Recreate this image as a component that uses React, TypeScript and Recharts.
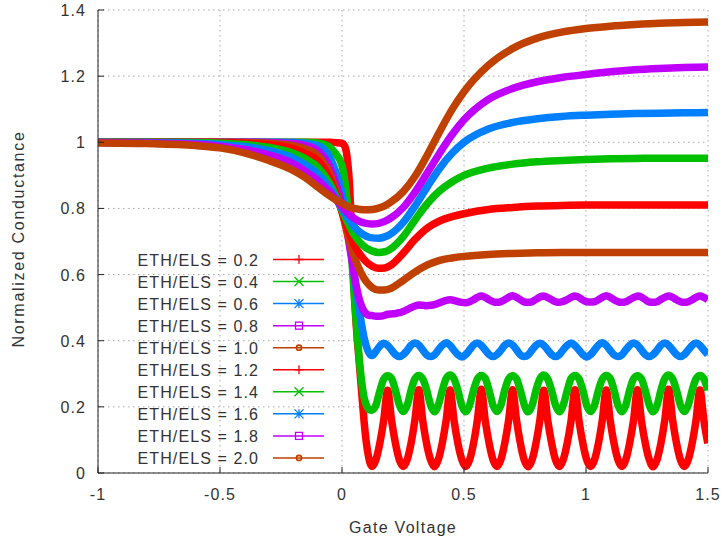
import React from 'react';
import { LineChart, Line, XAxis, YAxis, CartesianGrid } from 'recharts';

// ---- axes ----
const X_TICKS = [-1, -0.5, 0, 0.5, 1, 1.5];
const X_TICK_LABELS = ['-1', '-0.5', '0', '0.5', '1', '1.5'];
const Y_TICKS = [0, 0.2, 0.4, 0.6, 0.8, 1, 1.2, 1.4];
const Y_TICK_LABELS = ['0', '0.2', '0.4', '0.6', '0.8', '1', '1.2', '1.4'];

// ---- gate voltage samples ----
// smooth curves (ETH/ELS >= 1.0)
const X_SMOOTH = [-1, -0.8, -0.6, -0.5, -0.4, -0.3, -0.2, -0.15, -0.1, -0.05, 0, 0.025, 0.05, 0.075, 0.1, 0.125, 0.15, 0.175, 0.2, 0.25, 0.3, 0.35, 0.4, 0.45, 0.5, 0.6, 0.7, 0.8, 0.9, 1.0, 1.1, 1.2, 1.3, 1.4, 1.5];
// oscillating curves (ETH/ELS <= 0.8): approach to the dip, then fine sampling
const X_LEAD = [-1, -0.8, -0.6, -0.5, -0.4, -0.3, -0.2, -0.15, -0.1, -0.05, -0.025, 0, 0.01, 0.02, 0.03, 0.04, 0.05, 0.06, 0.07, 0.08, 0.09, 0.1, 0.11];
const X_OSC = [
  0.123, 0.139, 0.155, 0.171, 0.187, 0.203, 0.219, 0.235,
  0.251, 0.267, 0.283, 0.299, 0.315, 0.331, 0.347, 0.363,
  0.379, 0.395, 0.411, 0.427, 0.443, 0.459, 0.475, 0.491,
  0.507, 0.523, 0.539, 0.555, 0.571, 0.587, 0.603, 0.619,
  0.635, 0.651, 0.667, 0.683, 0.699, 0.715, 0.731, 0.747,
  0.763, 0.779, 0.795, 0.811, 0.827, 0.843, 0.859, 0.875,
  0.891, 0.907, 0.923, 0.939, 0.955, 0.971, 0.987, 1.003,
  1.019, 1.035, 1.051, 1.067, 1.083, 1.099, 1.115, 1.131,
  1.147, 1.163, 1.179, 1.195, 1.211, 1.227, 1.243, 1.259,
  1.275, 1.291, 1.307, 1.323, 1.339, 1.355, 1.371, 1.387,
  1.403, 1.419, 1.435, 1.451, 1.467, 1.483, 1.499,
];

// ---- normalized conductance ----
const G_02_LEAD = [1, 1, 1, 1, 1, 1, 1, 1, 1, 1, 0.999, 0.997, 0.99, 0.96, 0.88, 0.72, 0.55, 0.43, 0.34, 0.25, 0.16, 0.09, 0.045];
const G_02_OSC = [
  0.02, 0.04, 0.09, 0.16, 0.25, 0.16, 0.09, 0.04,
  0.02, 0.04, 0.09, 0.162, 0.252, 0.158, 0.088, 0.04,
  0.019, 0.041, 0.091, 0.16, 0.251, 0.16, 0.09, 0.041,
  0.02, 0.04, 0.089, 0.161, 0.253, 0.159, 0.09, 0.04,
  0.02, 0.04, 0.09, 0.16, 0.252, 0.161, 0.09, 0.039,
  0.019, 0.04, 0.09, 0.16, 0.25, 0.16, 0.091, 0.04,
  0.02, 0.041, 0.09, 0.159, 0.252, 0.16, 0.09, 0.04,
  0.02, 0.04, 0.09, 0.161, 0.251, 0.16, 0.089, 0.04,
  0.02, 0.04, 0.091, 0.16, 0.252, 0.159, 0.09, 0.041,
  0.019, 0.04, 0.09, 0.16, 0.253, 0.16, 0.09, 0.04,
  0.02, 0.04, 0.09, 0.16, 0.251, 0.16, 0.09,
];
const G_04_LEAD = [1, 1, 1, 1, 1, 1, 1, 1, 0.998, 0.985, 0.965, 0.93, 0.89, 0.83, 0.75, 0.65, 0.54, 0.44, 0.35, 0.28, 0.23, 0.205, 0.192];
const G_04_OSC = [
  0.19, 0.205, 0.248, 0.284, 0.294, 0.286, 0.25, 0.206,
  0.186, 0.204, 0.25, 0.285, 0.295, 0.284, 0.251, 0.205,
  0.185, 0.206, 0.249, 0.286, 0.296, 0.285, 0.25, 0.204,
  0.185, 0.205, 0.25, 0.284, 0.295, 0.286, 0.249, 0.205,
  0.186, 0.205, 0.251, 0.285, 0.294, 0.285, 0.25, 0.206,
  0.185, 0.204, 0.25, 0.285, 0.296, 0.284, 0.25, 0.205,
  0.185, 0.206, 0.249, 0.286, 0.295, 0.285, 0.251, 0.204,
  0.186, 0.205, 0.25, 0.284, 0.295, 0.286, 0.25, 0.205,
  0.185, 0.205, 0.251, 0.285, 0.294, 0.285, 0.249, 0.206,
  0.185, 0.204, 0.25, 0.286, 0.296, 0.284, 0.25, 0.205,
  0.186, 0.205, 0.25, 0.285, 0.295, 0.285, 0.25,
];
const G_06_LEAD = [1, 1, 1, 1, 1, 1, 0.999, 0.997, 0.99, 0.955, 0.91, 0.845, 0.805, 0.76, 0.71, 0.655, 0.6, 0.545, 0.495, 0.45, 0.41, 0.382, 0.364];
const G_06_OSC = [
  0.355, 0.368, 0.384, 0.392, 0.386, 0.372, 0.358, 0.352,
  0.358, 0.371, 0.386, 0.393, 0.387, 0.372, 0.357, 0.352,
  0.357, 0.372, 0.386, 0.394, 0.386, 0.371, 0.358, 0.351,
  0.358, 0.372, 0.387, 0.393, 0.386, 0.372, 0.358, 0.352,
  0.358, 0.371, 0.386, 0.393, 0.387, 0.373, 0.357, 0.352,
  0.357, 0.372, 0.386, 0.392, 0.386, 0.372, 0.358, 0.352,
  0.358, 0.373, 0.386, 0.393, 0.385, 0.372, 0.358, 0.351,
  0.358, 0.372, 0.387, 0.394, 0.386, 0.371, 0.357, 0.352,
  0.357, 0.372, 0.386, 0.393, 0.387, 0.372, 0.358, 0.352,
  0.358, 0.371, 0.386, 0.393, 0.386, 0.372, 0.358, 0.352,
  0.358, 0.372, 0.386, 0.393, 0.386, 0.372, 0.358,
];
const G_08_LEAD = [1, 1, 1, 1, 1, 0.999, 0.996, 0.99, 0.975, 0.925, 0.875, 0.81, 0.775, 0.735, 0.69, 0.645, 0.6, 0.56, 0.528, 0.505, 0.49, 0.481, 0.477];
const G_08_OSC = [
  0.476, 0.474, 0.474, 0.476, 0.48, 0.481, 0.482, 0.485,
  0.488, 0.494, 0.5, 0.505, 0.508, 0.507, 0.506, 0.507,
  0.509, 0.513, 0.518, 0.522, 0.524, 0.522, 0.518, 0.516,
  0.515, 0.518, 0.524, 0.531, 0.535, 0.531, 0.524, 0.518,
  0.516, 0.518, 0.524, 0.531, 0.536, 0.531, 0.524, 0.517,
  0.516, 0.518, 0.525, 0.532, 0.535, 0.53, 0.524, 0.518,
  0.516, 0.519, 0.524, 0.531, 0.535, 0.531, 0.523, 0.518,
  0.517, 0.518, 0.524, 0.531, 0.536, 0.531, 0.524, 0.518,
  0.516, 0.518, 0.524, 0.53, 0.535, 0.532, 0.524, 0.517,
  0.516, 0.518, 0.525, 0.531, 0.535, 0.531, 0.524, 0.518,
  0.516, 0.518, 0.524, 0.531, 0.535, 0.531, 0.524,
];
const G_10 = [1, 1, 1, 1, 0.999, 0.997, 0.99, 0.98, 0.96, 0.905, 0.79, 0.715, 0.655, 0.61, 0.578, 0.56, 0.553, 0.553, 0.558, 0.582, 0.608, 0.629, 0.643, 0.65, 0.655, 0.661, 0.664, 0.666, 0.667, 0.667, 0.667, 0.667, 0.667, 0.667, 0.667];
const G_12 = [1, 1, 1, 0.999, 0.997, 0.993, 0.98, 0.966, 0.945, 0.89, 0.79, 0.735, 0.69, 0.66, 0.638, 0.625, 0.619, 0.62, 0.628, 0.664, 0.707, 0.741, 0.762, 0.775, 0.784, 0.797, 0.803, 0.807, 0.809, 0.81, 0.81, 0.81, 0.81, 0.81, 0.81];
const G_14 = [1, 1, 0.999, 0.997, 0.993, 0.985, 0.967, 0.95, 0.925, 0.875, 0.795, 0.755, 0.72, 0.696, 0.68, 0.671, 0.667, 0.669, 0.678, 0.714, 0.766, 0.815, 0.853, 0.88, 0.9, 0.922, 0.934, 0.941, 0.945, 0.948, 0.95, 0.951, 0.952, 0.952, 0.952];
const G_16 = [1, 0.999, 0.997, 0.993, 0.987, 0.975, 0.952, 0.932, 0.905, 0.862, 0.8, 0.77, 0.745, 0.727, 0.716, 0.711, 0.71, 0.714, 0.723, 0.757, 0.808, 0.866, 0.921, 0.966, 1.0, 1.04, 1.06, 1.071, 1.078, 1.082, 1.085, 1.087, 1.088, 1.089, 1.09];
const G_18 = [0.999, 0.998, 0.994, 0.988, 0.978, 0.962, 0.935, 0.912, 0.885, 0.85, 0.805, 0.785, 0.77, 0.76, 0.755, 0.753, 0.755, 0.761, 0.771, 0.802, 0.85, 0.908, 0.967, 1.022, 1.068, 1.13, 1.163, 1.183, 1.196, 1.205, 1.213, 1.219, 1.223, 1.226, 1.228];
const G_20 = [0.998, 0.996, 0.99, 0.983, 0.968, 0.945, 0.915, 0.893, 0.865, 0.838, 0.815, 0.806, 0.8, 0.797, 0.796, 0.797, 0.801, 0.808, 0.819, 0.85, 0.898, 0.962, 1.032, 1.098, 1.153, 1.233, 1.284, 1.315, 1.333, 1.344, 1.351, 1.356, 1.36, 1.362, 1.364];

// ---- series ----
const SERIES_LABELS = [
  'ETH/ELS = 0.2', 'ETH/ELS = 0.4', 'ETH/ELS = 0.6', 'ETH/ELS = 0.8', 'ETH/ELS = 1.0',
  'ETH/ELS = 1.2', 'ETH/ELS = 1.4', 'ETH/ELS = 1.6', 'ETH/ELS = 1.8', 'ETH/ELS = 2.0',
];
const SERIES_COLORS = ['#ff0000', '#00c000', '#0080ff', '#c000ff', '#c04000', '#ff0000', '#00c000', '#0080ff', '#c000ff', '#c04000'];
const SERIES_MARKERS = ['plus', 'cross', 'star', 'square', 'circle', 'plus', 'cross', 'star', 'square', 'circle'];

const zip = (xs: number[], ys: number[]) => xs.map((x, i) => ({ x, y: ys[i] }));
const X_FINE = X_LEAD.concat(X_OSC);
const SERIES_DATA = [
  zip(X_FINE, G_02_LEAD.concat(G_02_OSC)),
  zip(X_FINE, G_04_LEAD.concat(G_04_OSC)),
  zip(X_FINE, G_06_LEAD.concat(G_06_OSC)),
  zip(X_FINE, G_08_LEAD.concat(G_08_OSC)),
  zip(X_SMOOTH, G_10),
  zip(X_SMOOTH, G_12),
  zip(X_SMOOTH, G_14),
  zip(X_SMOOTH, G_16),
  zip(X_SMOOTH, G_18),
  zip(X_SMOOTH, G_20),
];

const W = 721;
const H = 544;
const FONT = "'Liberation Sans', Arial, Helvetica, sans-serif";
const TEXT_STYLE: React.CSSProperties = { fontFamily: FONT, fontSize: 16, fill: '#333', letterSpacing: 1.1 };
const AXIS_COLOR = '#222';
const TICK_LEN = 6;

function BottomTick(props: any) {
  const { x, y, payload } = props;
  const i = X_TICKS.indexOf(payload.value);
  return (
    <g>
      <line x1={x} y1={y} x2={x} y2={y - TICK_LEN} stroke={AXIS_COLOR} />
      <text x={x} y={y + 27} textAnchor="middle" style={TEXT_STYLE}>{X_TICK_LABELS[i]}</text>
    </g>
  );
}
function TopTick(props: any) {
  const { x, y } = props;
  return <line x1={x} y1={y} x2={x} y2={y + TICK_LEN} stroke={AXIS_COLOR} />;
}
function LeftTick(props: any) {
  const { x, y, payload } = props;
  const i = Y_TICKS.indexOf(payload.value);
  return (
    <g>
      <line x1={x} y1={y} x2={x + TICK_LEN} y2={y} stroke={AXIS_COLOR} />
      <text x={x - 12} y={y + 6} textAnchor="end" style={TEXT_STYLE}>{Y_TICK_LABELS[i]}</text>
    </g>
  );
}
function RightTick(props: any) {
  const { x, y } = props;
  return <line x1={x} y1={y} x2={x - TICK_LEN} y2={y} stroke={AXIS_COLOR} />;
}

function Marker({ kind, cx, cy, color }: { kind: string; cx: number; cy: number; color: string }) {
  const s = 4.5;
  const sw = 1.3;
  if (kind === 'plus') {
    return <path d={`M${cx - s},${cy}H${cx + s}M${cx},${cy - s}V${cy + s}`} stroke={color} strokeWidth={sw} fill="none" />;
  }
  if (kind === 'cross') {
    return <path d={`M${cx - s},${cy - s}L${cx + s},${cy + s}M${cx - s},${cy + s}L${cx + s},${cy - s}`} stroke={color} strokeWidth={sw} fill="none" />;
  }
  if (kind === 'star') {
    return (
      <path
        d={`M${cx - s},${cy}H${cx + s}M${cx},${cy - s}V${cy + s}M${cx - s},${cy - s}L${cx + s},${cy + s}M${cx - s},${cy + s}L${cx + s},${cy - s}`}
        stroke={color}
        strokeWidth={sw}
        fill="none"
      />
    );
  }
  if (kind === 'square') {
    return <rect x={cx - 3.5} y={cy - 3.5} width={7} height={7} stroke={color} strokeWidth={sw} fill="none" />;
  }
  return <circle cx={cx} cy={cy} r={2.6} stroke={color} strokeWidth={1.6} fill="none" />;
}

function Overlay() {
  const rowY0 = 259.5;
  const rowStep = 22.05;
  return (
    <svg width={W} height={H} style={{ position: 'absolute', left: 0, top: 0, pointerEvents: 'none' }}>
      <text
        x={24}
        y={239}
        transform="rotate(-90 24 239)"
        textAnchor="middle"
        style={{ ...TEXT_STYLE, letterSpacing: 1.7 }}
      >
        Normalized Conductance
      </text>
      <text x={403} y={533} textAnchor="middle" style={{ ...TEXT_STYLE, letterSpacing: 1.3 }}>Gate Voltage</text>
      {SERIES_LABELS.map((label, i) => {
        const cy = rowY0 + i * rowStep;
        return (
          <g key={label}>
            <text x={259} y={cy + 6} textAnchor="end" style={TEXT_STYLE}>{label}</text>
            <line x1={273} y1={cy} x2={324} y2={cy} stroke={SERIES_COLORS[i]} strokeWidth={1.5} />
            <Marker kind={SERIES_MARKERS[i]} cx={299} cy={cy} color={SERIES_COLORS[i]} />
          </g>
        );
      })}
    </svg>
  );
}

export default function App() {
  return (
    <div style={{ position: 'absolute', left: 0, top: 0, width: W, height: H, background: '#fff' }}>
      <LineChart width={W} height={H} margin={{ top: 10, right: 13, bottom: 0, left: 0 }}>
        <CartesianGrid stroke="#a8a8a8" strokeDasharray="1.5 3.5" />
        <XAxis
          dataKey="x"
          type="number"
          domain={[-1, 1.5]}
          ticks={X_TICKS}
          interval={0}
          allowDataOverflow
          height={71}
          tickSize={0}
          tickMargin={0}
          axisLine={{ stroke: AXIS_COLOR }}
          tickLine={false}
          tick={<BottomTick />}
        />
        <XAxis
          xAxisId="top"
          orientation="top"
          dataKey="x"
          type="number"
          domain={[-1, 1.5]}
          ticks={X_TICKS}
          interval={0}
          allowDataOverflow
          height={0}
          tickSize={0}
          tickMargin={0}
          axisLine={{ stroke: AXIS_COLOR }}
          tickLine={false}
          tick={<TopTick />}
        />
        <YAxis
          type="number"
          domain={[0, 1.4]}
          ticks={Y_TICKS}
          interval={0}
          allowDataOverflow
          width={98}
          tickSize={0}
          tickMargin={0}
          axisLine={{ stroke: AXIS_COLOR }}
          tickLine={false}
          tick={<LeftTick />}
        />
        <YAxis
          yAxisId="right"
          orientation="right"
          type="number"
          domain={[0, 1.4]}
          ticks={Y_TICKS}
          interval={0}
          allowDataOverflow
          width={0}
          tickSize={0}
          tickMargin={0}
          axisLine={{ stroke: AXIS_COLOR }}
          tickLine={false}
          tick={<RightTick />}
        />
        {SERIES_DATA.map((pts, i) => (
          <Line
            key={SERIES_LABELS[i]}
            data={pts}
            dataKey="y"
            name={SERIES_LABELS[i]}
            type="monotone"
            stroke={SERIES_COLORS[i]}
            strokeWidth={7.5}
            strokeLinejoin="round"
            dot={false}
            activeDot={false}
            isAnimationActive={false}
          />
        ))}
      </LineChart>
      <Overlay />
    </div>
  );
}
